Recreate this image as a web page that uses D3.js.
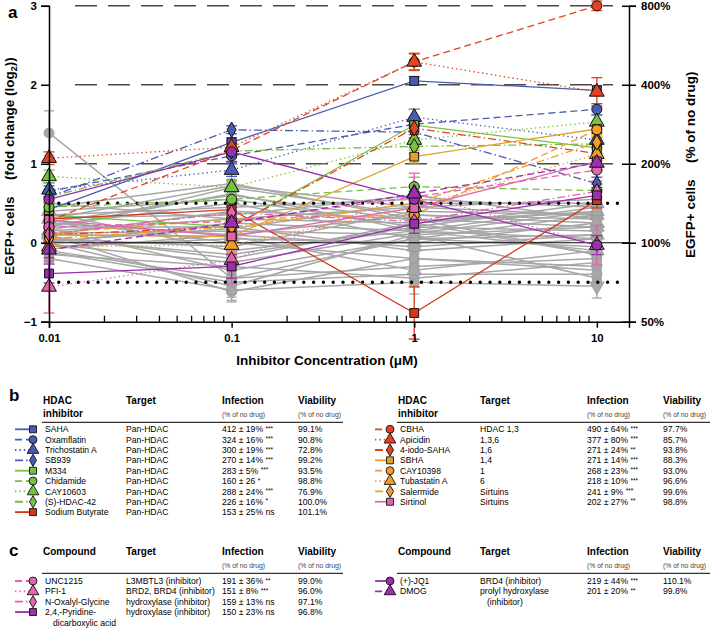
<!DOCTYPE html>
<html><head><meta charset="utf-8">
<script src="https://cdn.jsdelivr.net/npm/d3@7"></script>
<style>
body{margin:0;background:#fff}
text{font-family:"Liberation Sans",Arial,Helvetica,sans-serif}
</style>
</head><body>
<svg id="chart" width="710" height="628"></svg>
<script>
// ---------------- DATA ----------------
const concentrations = [0.01, 0.1, 1, 10];
const xTickLabels = ["0.01", "0.1", "1", "10"];
const yTicks = [-1, 0, 1, 2, 3];
const rightTickLabels = ["50%", "100%", "200%", "400%", "800%"];
const gridLevels = [1, 2, 3];
const thresholdLevels = [0.5, -0.5];

const seriesNames = ["SAHA","Oxamflatin","Trichostatin A","SB939","M334","Chidamide","CAY10603","(S)-HDAC-42","Sodium Butyrate",
  "CBHA","Apicidin","4-iodo-SAHA","SBHA","CAY10398","Tubastatin A","Salermide","Sirtinol",
  "UNC1215","PFI-1","N-Oxalyl-Glycine","2,4,-Pyridine-","(+)-JQ1","DMOG"];
const seriesValues = [
  [0.42, 1.27, 2.05, 1.93],
  [0.65, 1.10, 1.50, 1.69],
  [0.67, 0.92, 1.59, 1.30],
  [0.58, 1.43, 1.40, 0.75],
  [0.35, 0.20, 1.49, 1.20],
  [0.45, 0.55, 0.71, 0.66],
  [0.84, 0.70, 1.30, 1.53],
  [0.58, 1.16, 1.22, 1.25],
  [0.30, 0.42, -0.89, 0.54],
  [0.28, 1.17, 2.29, 3.00],
  [1.07, 1.21, 2.29, 1.91],
  [0.10, 0.20, 1.45, 1.13],
  [0.10, 0.08, 1.09, 1.44],
  [0.12, 0.30, 0.35, 1.43],
  [-0.05, -0.03, 0.45, 1.12],
  [0.05, 0.20, 0.50, 1.27],
  [0.29, 0.08, 0.44, 1.03],
  [0.20, 0.27, 0.58, 0.92],
  [-0.56, -0.22, 0.63, -0.03],
  [0.11, 0.38, 0.27, 0.65],
  [-0.39, -0.30, 0.24, 0.60],
  [0.55, 1.15, 0.55, -0.03],
  [-0.09, 0.25, 0.62, 1.01]
];
const seriesErrors = [
  [0.08, 0.06, 0.05, 0.06],
  [0.07, 0.08, 0.08, 0.07],
  [0.09, 0.08, 0.10, 0.09],
  [0.06, 0.05, 0.07, 0.08],
  [0.07, 0.08, 0.20, 0.06],
  [0.10, 0.10, 0.12, 0.08],
  [0.08, 0.09, 0.10, 0.08],
  [0.07, 0.08, 0.09, 0.07],
  [0.10, 0.12, 0.33, 0.10],
  [0.10, 0.09, 0.10, 0.06],
  [0.08, 0.09, 0.11, 0.18],
  [0.08, 0.07, 0.08, 0.09],
  [0.07, 0.08, 0.08, 0.07],
  [0.07, 0.08, 0.09, 0.10],
  [0.06, 0.09, 0.10, 0.10],
  [0.06, 0.07, 0.09, 0.08],
  [0.10, 0.09, 0.12, 0.10],
  [0.09, 0.10, 0.12, 0.14],
  [0.33, 0.30, 0.25, 0.25],
  [0.08, 0.08, 0.10, 0.09],
  [0.12, 0.15, 0.12, 0.10],
  [0.10, 0.12, 0.10, 0.12],
  [0.10, 0.10, 0.10, 0.10]
];
const greyValues = [
  [1.39, -0.45, 0.05, 0.10],
  [0.45, 0.75, 0.30, 0.20],
  [0.30, 0.72, 0.45, 0.35],
  [0.20, 0.62, 0.15, -0.10],
  [0.10, -0.62, -0.20, -0.30],
  [0.00, -0.55, 0.10, -0.45],
  [-0.10, -0.45, -0.30, -0.20],
  [0.15, 0.30, 0.25, 0.40],
  [0.25, 0.10, 0.35, 0.30],
  [0.05, -0.15, 0.20, 0.15],
  [-0.05, 0.05, 0.00, 0.25],
  [0.35, 0.45, 0.55, 0.45],
  [0.20, 0.20, -0.10, 0.05],
  [-0.15, -0.30, -0.45, -0.25],
  [0.10, 0.40, 0.30, -0.15],
  [0.40, 0.55, 0.20, 0.50],
  [0.05, -0.05, 0.40, 0.35],
  [-0.20, -0.60, -0.50, -0.55],
  [0.12, 0.15, 0.10, 0.20],
  [0.28, 0.00, -0.20, -0.35],
  [0.00, 0.25, 0.15, 0.45],
  [0.18, -0.35, 0.05, -0.05],
  [0.32, 0.35, 0.60, 0.30],
  [-0.08, 0.10, -0.05, 0.10],
  [0.22, 0.50, 0.05, 0.35],
  [0.08, -0.20, 0.25, -0.15],
  [0.15, 0.70, 0.35, 0.25],
  [0.50, 0.30, 0.45, 0.55],
  [-0.12, -0.50, -0.40, -0.40],
  [0.02, 0.18, 0.50, 0.50],
  [0.38, -0.10, 0.15, 0.05],
  [0.10, 0.08, -0.35, -0.10],
  [0.26, 0.60, 0.28, 0.38],
  [-0.02, -0.25, 0.12, 0.40]
];
const greyErrors = [0.28,0.05,0.06,0.05,0.07,0.06,0.05,0.04,0.05,0.06,0.04,0.05,0.05,0.06,0.05,0.04,0.05,0.15,0.04,0.05,0.05,0.06,0.05,0.04,0.05,0.06,0.05,0.04,0.07,0.05,0.05,0.06,0.05,0.05];

const targets = ["Pan-HDAC","Pan-HDAC","Pan-HDAC","Pan-HDAC","Pan-HDAC","Pan-HDAC","Pan-HDAC","Pan-HDAC","Pan-HDAC",
  "HDAC 1,3","1,3,6","1,6","1,4","1","6","Sirtuins","Sirtuins",
  "L3MBTL3 (inhibitor)","BRD2, BRD4 (inhibitor)","hydroxylase (inhibitor)","hydroxylase (inhibitor)",
  "BRD4 (inhibitor)","prolyl hydroxylase"];
const infectionValues = ["412 ± 19%","324 ± 16%","300 ± 19%","270 ± 14%","283 ± 5%","160 ± 26","288 ± 24%","226 ± 16%","153 ± 25%",
  "490 ± 64%","377 ± 80%","271 ± 24%","271 ± 14%","268 ± 23%","218 ± 10%","241 ± 9%","202 ± 27%",
  "191 ± 36%","151 ± 8%","159 ± 13%","150 ± 23%","219 ± 44%","201 ± 20%"];
const significance = ["***","***","***","***","***","*","***","*","ns",
  "***","***","**","***","***","***","***","**",
  "**","***","ns","ns","***","**"];
const viability = ["99.1%","90.8%","72.8%","99.2%","93.5%","98.8%","76.9%","100.0%","101.1%",
  "97.7%","85.7%","93.8%","88.3%","93.0%","96.6%","99.6%","98.8%",
  "99.0%","96.0%","97.1%","96.8%","110.1%","99.8%"];
const tableGroups = [[0,1,2,3,4,5,6,7,8],[9,10,11,12,13,14,15,16],[17,18,19,20],[21,22]];

// ---------------- STYLES ----------------
const C = {blue:"#4a5bb1", green:"#78c043", red:"#e2441f", dred:"#d3381b", orange:"#f39d28", gold:"#dfa22f", pink:"#e264ae", purple:"#9b2fae"};
const DASH = {solid:null, dashed:"7,4", dotted:"1.4,3", dashdot:"8,3,1.5,3"};
const seriesStyle = [
  [C.blue,"solid","square"],[C.blue,"dashed","circle"],[C.blue,"dotted","triangle"],[C.blue,"dashdot","diamond"],
  [C.green,"solid","square"],[C.green,"dashed","circle"],[C.green,"dotted","triangle"],[C.green,"dashdot","diamond"],
  [C.dred,"solid","square"],
  [C.red,"dashed","circle"],[C.red,"dotted","triangle"],[C.red,"dashdot","diamond"],
  [C.gold,"solid","square"],[C.orange,"dashed","circle"],[C.orange,"dotted","triangle"],[C.orange,"dashdot","diamond"],
  [C.pink,"solid","square"],
  [C.pink,"dashed","circle"],[C.pink,"dotted","triangle"],[C.pink,"dashdot","diamond"],[C.purple,"solid","square"],
  [C.purple,"solid","circle"],[C.purple,"dashed","triangle"]
];
const greyShapes = ["circle","square","triangle","diamond","circle","square","circle","triangle"];
const SYM = {circle:d3.symbolCircle, square:d3.symbolSquare, triangle:d3.symbolTriangle, diamond:d3.symbolDiamond, tdown:d3.symbolTriangle};
const SIZE = {circle:80, square:78, triangle:95, diamond:70};

// ---------------- CHART ----------------
const svg = d3.select("#chart");
const x = d3.scaleLog().domain([0.01, 15]).range([49, 629]);
const y = d3.scaleLinear().domain([-1, 3]).range([321.7, 5.8]);
const line = d3.line().x((d,i)=>x(concentrations[i])).y(d=>y(d));

const plot = svg.append("g");

plot.selectAll(".grid").data(gridLevels).join("line")
  .attr("x1", x(0.01)+26).attr("x2", x(15)-16)
  .attr("y1", d=>y(d)).attr("y2", d=>y(d))
  .attr("stroke","#4a4a4a").attr("stroke-width",1.6).attr("stroke-dasharray","22,11");

const grey = "#a7a7a7";
greyValues.forEach((vals,k)=>{
  plot.append("path").datum(vals).attr("d",line).attr("fill","none")
    .attr("stroke",grey).attr("stroke-width",1.5);
});
greyValues.forEach((vals,k)=>{
  vals.forEach((v,i)=>{
    const cx = x(concentrations[i]), e = greyErrors[k];
    plot.append("line").attr("x1",cx).attr("x2",cx).attr("y1",y(v-e)).attr("y2",y(v+e)).attr("stroke",grey).attr("stroke-width",1.3);
    [v-e,v+e].forEach(t=>plot.append("line").attr("x1",cx-5).attr("x2",cx+5).attr("y1",y(t)).attr("y2",y(t)).attr("stroke",grey).attr("stroke-width",1.3));
    const shp = (k===17 && i===3) ? "tdown" : greyShapes[k % greyShapes.length];
    plot.append("path").attr("d", d3.symbol(SYM[shp], shp==="tdown"?95:(SIZE[shp]||80))())
      .attr("transform",`translate(${cx},${y(v)})${shp==="tdown"?" rotate(180)":""}`)
      .attr("fill",grey).attr("stroke","#999").attr("stroke-width",0.8);
  });
});

plot.append("line").attr("x1",x(0.01)).attr("x2",x(15)).attr("y1",y(0)).attr("y2",y(0))
  .attr("stroke","#000").attr("stroke-width",1.2);
plot.selectAll(".thr").data(thresholdLevels).join("line")
  .attr("x1",x(0.01)).attr("x2",x(15)-3).attr("y1",d=>y(d)).attr("y2",d=>y(d))
  .attr("stroke","#000").attr("stroke-width",3.4).attr("stroke-linecap","round").attr("stroke-dasharray","0,9.8");

seriesValues.forEach((vals,k)=>{
  const [col,dash] = seriesStyle[k];
  plot.append("path").datum(vals).attr("d",line).attr("fill","none")
    .attr("stroke",col).attr("stroke-width",1.3)
    .attr("stroke-dasharray",DASH[dash]);
});
seriesValues.forEach((vals,k)=>{
  const col = seriesStyle[k][0];
  vals.forEach((v,i)=>{
    const cx = x(concentrations[i]), e = seriesErrors[k][i];
    plot.append("line").attr("x1",cx).attr("x2",cx).attr("y1",y(v-e)).attr("y2",y(v+e)).attr("stroke",col).attr("stroke-width",1.3);
    [v-e,v+e].forEach(t=>plot.append("line").attr("x1",cx-5.5).attr("x2",cx+5.5).attr("y1",y(t)).attr("y2",y(t)).attr("stroke",col).attr("stroke-width",1.3));
  });
});
seriesValues.forEach((vals,k)=>{
  const [col,,shp] = seriesStyle[k];
  vals.forEach((v,i)=>{
    plot.append("path").attr("d", d3.symbol(SYM[shp], SIZE[shp])())
      .attr("transform",`translate(${x(concentrations[i])},${y(v)})`)
      .attr("fill",col).attr("stroke","#111").attr("stroke-width",1);
  });
});

const bold = g => g.selectAll("text").attr("font-weight","bold").attr("fill","#000")
  .attr("font-family",'"Liberation Sans",Arial,sans-serif');
const left = svg.append("g").attr("transform",`translate(${x(0.01)},0)`)
  .call(d3.axisLeft(y).tickValues(yTicks).tickFormat(d3.format("d")).tickSize(8).tickPadding(4));
left.call(bold); left.selectAll("text").attr("font-size",11.5);
left.selectAll("line,path").attr("stroke","#000").attr("stroke-width",1.5);

const right = svg.append("g").attr("transform",`translate(${x(15)},0)`)
  .call(d3.axisRight(y).tickValues(yTicks).tickFormat((d,i)=>rightTickLabels[i]).tickSize(7).tickPadding(5));
right.call(bold); right.selectAll("text").attr("font-size",11.5);
right.selectAll(".tick line").attr("x1",-7);
right.selectAll("line,path").attr("stroke","#000").attr("stroke-width",1.5);

const bottom = svg.append("g").attr("transform",`translate(0,${y(-1)})`)
  .call(d3.axisBottom(x).tickValues(concentrations).tickFormat((d,i)=>xTickLabels[i]).tickSize(6).tickPadding(6));
bottom.call(bold); bottom.selectAll("text").attr("font-size",11.3);
bottom.selectAll("line,path").attr("stroke","#000").attr("stroke-width",1.5);
const minor = [];
[0.01,0.1,1].forEach(b=>{for(let m=2;m<=9;m++) minor.push(b*m);});
const minorAxis = svg.append("g").attr("transform",`translate(0,${y(-1)})`)
  .call(d3.axisBottom(x).tickValues(minor).tickSize(-6).tickFormat(""));
minorAxis.select(".domain").remove();
minorAxis.selectAll("line").attr("stroke","#000").attr("stroke-width",1.3);

svg.append("text").attr("x",8).attr("y",18).attr("font-size",17).attr("font-weight","bold").text("a");
svg.append("text").attr("x",(x(0.01)+x(15))/2 - 12).attr("y",365).attr("text-anchor","middle")
  .attr("font-size",13.5).attr("font-weight","bold").text("Inhibitor Concentration (\u03bcM)");
function vtext(xb, yStart, parts){
  const t = svg.append("text").attr("transform",`translate(${xb},${yStart}) rotate(-90)`)
    .attr("font-size",13.5).attr("font-weight","bold");
  parts.forEach(p=>{
    const s = t.append("tspan").text(p[0]);
    if(p[1]) s.attr("font-size",9).attr("dy",p[1]);
    if(p[2]) s.attr("dy",p[2]);
  });
}
vtext(13.5, 275, [["EGFP+ cells"]]);
vtext(13.5, 180, [["(fold change (log"],["2",3],["))",null,-3]]);
vtext(695, 258, [["EGFP+ cells"]]);
vtext(695, 163, [["(% of no drug)"]]);

const tables = [
  {g:0, x0:15, mx:33, name:45, tgt:126, inf:222, via:298, rule:[42,343], hy:404.3, head:["HDAC","inhibitor"], rowY:429.3},
  {g:1, x0:375, mx:390, name:400, tgt:480, inf:587, via:663, rule:[397,710], hy:404.3, head:["HDAC","inhibitor"], rowY:429.3},
  {g:2, x0:15, mx:33, name:45, tgt:126, inf:222, via:298, rule:[42,343], hy:555.3, head:["Compound"], rowY:581},
  {g:3, x0:375, mx:390, name:400, tgt:480, inf:587, via:663, rule:[397,710], hy:555.3, head:["Compound"], rowY:581}
];
svg.append("text").attr("x",9).attr("y",401).attr("font-size",17).attr("font-weight","bold").text("b");
svg.append("text").attr("x",9).attr("y",556).attr("font-size",17).attr("font-weight","bold").text("c");
const step = 10.35;
tables.forEach(T=>{
  const hx = T.name - 2;
  T.head.forEach((h,i)=>svg.append("text").attr("x",hx).attr("y",T.hy + i*12.8).attr("font-size",10).attr("font-weight","bold").text(h));
  svg.append("text").attr("x",T.tgt).attr("y",T.hy).attr("font-size",10).attr("font-weight","bold").text("Target");
  svg.append("text").attr("x",T.inf).attr("y",T.hy).attr("font-size",10).attr("font-weight","bold").text("Infection");
  svg.append("text").attr("x",T.via).attr("y",T.hy).attr("font-size",10).attr("font-weight","bold").text("Viability");
  [T.inf, T.via].forEach(xx=>svg.append("text").attr("x",xx).attr("y",T.hy+12.5).attr("font-size",6.8).attr("fill","#444").text("(% of no drug)"));
  svg.append("line").attr("x1",T.rule[0]).attr("x2",T.rule[1]).attr("y1",T.hy+18).attr("y2",T.hy+18)
    .attr("stroke","#333").attr("stroke-width",1.3);
  tableGroups[T.g].forEach((k,r)=>{
    const cy = T.rowY + r*step, by = cy + 3.1;
    const [col,dash,shp] = seriesStyle[k];
    svg.append("line").attr("x1",T.x0).attr("x2",T.mx).attr("y1",cy).attr("y2",cy)
      .attr("stroke",col).attr("stroke-width",1.8).attr("stroke-dasharray",DASH[dash]);
    svg.append("path").attr("d", d3.symbol(SYM[shp], SIZE[shp]*0.62)())
      .attr("transform",`translate(${T.mx},${cy})`).attr("fill",col).attr("stroke","#111").attr("stroke-width",0.9);
    svg.append("text").attr("x",T.name).attr("y",by).attr("font-size",8.6).text(seriesNames[k]);
    svg.append("text").attr("x",T.tgt).attr("y",by).attr("font-size",8.6).text(targets[k]);
    const it = svg.append("text").attr("x",T.inf).attr("y",by).attr("font-size",8.6);
    it.append("tspan").text(infectionValues[k] + " ");
    if(significance[k]==="ns") it.append("tspan").text("ns");
    else it.append("tspan").attr("font-size",6.5).attr("dy",-1.5).text(significance[k]);
    svg.append("text").attr("x",T.via).attr("y",by).attr("font-size",8.6).text(viability[k]);
    if(k===20) svg.append("text").attr("x",T.name+8).attr("y",by+step).attr("font-size",8.6).text("dicarboxylic acid");
    if(k===22) svg.append("text").attr("x",T.tgt+7).attr("y",by+step).attr("font-size",8.6).text("(inhibitor)");
  });
});
</script>
</body></html>
